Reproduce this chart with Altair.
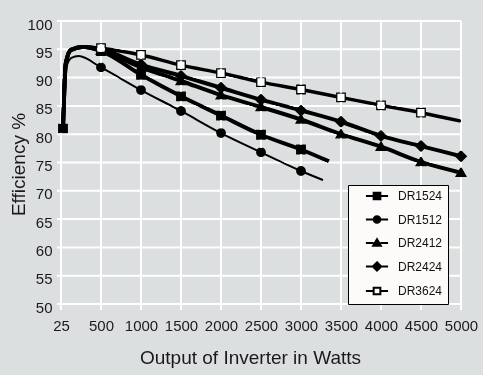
import altair as alt
import pandas as pd

series = ["DR1524", "DR1512", "DR2412", "DR2424", "DR3624"]

# watts / efficiency %; marked = 1 where a marker is drawn
x_dr1524 = [25, 60, 125, 275, 500, 1000, 1500, 2000, 2500, 3000, 3350]
y_dr1524 = [81.0, 92.5, 94.9, 95.4, 94.7, 90.5, 86.7, 83.3, 79.9, 77.3, 75.2]
m_dr1524 = [1, 0, 0, 0, 1, 1, 1, 1, 1, 1, 0]

x_dr1512 = [25, 60, 130, 220, 500, 1000, 1500, 2000, 2500, 3000, 3275]
y_dr1512 = [81.0, 91.5, 93.5, 93.8, 91.8, 87.8, 84.1, 80.2, 76.8, 73.5, 71.9]
m_dr1512 = [0, 0, 0, 0, 1, 1, 1, 1, 1, 1, 0]

x_dr2412 = [25, 60, 125, 275, 500, 1000, 1500, 2000, 2500, 3000, 3500, 4000, 4500, 5000]
y_dr2412 = [81.0, 92.5, 94.9, 95.4, 94.8, 91.8, 89.4, 86.9, 84.8, 82.6, 80.0, 77.8, 75.1, 73.2]
m_dr2412 = [0, 0, 0, 0, 1, 1, 1, 1, 1, 1, 1, 1, 1, 1]

x_dr2424 = [25, 60, 125, 275, 500, 1000, 1500, 2000, 2500, 3000, 3500, 4000, 4500, 5000]
y_dr2424 = [81.0, 92.5, 94.9, 95.4, 95.0, 92.3, 90.3, 88.2, 86.1, 84.2, 82.2, 79.7, 77.9, 76.1]
m_dr2424 = [0, 0, 0, 0, 1, 1, 1, 1, 1, 1, 1, 1, 1, 1]

x_dr3624 = [25, 60, 125, 275, 500, 1000, 1500, 2000, 2500, 3000, 3500, 4000, 4500, 5000]
y_dr3624 = [81.0, 92.5, 94.9, 95.4, 95.2, 94.0, 92.2, 90.8, 89.2, 87.9, 86.5, 85.1, 83.8, 82.3]
m_dr3624 = [0, 0, 0, 0, 1, 1, 1, 1, 1, 1, 1, 1, 1, 0]

x_ticks = [0, 500, 1000, 1500, 2000, 2500, 3000, 3500, 4000, 4500, 5000]
y_ticks = [50, 55, 60, 65, 70, 75, 80, 85, 90, 95, 100]

xs = [x_dr1524, x_dr1512, x_dr2412, x_dr2424, x_dr3624]
ys = [y_dr1524, y_dr1512, y_dr2412, y_dr2424, y_dr3624]
ms = [m_dr1524, m_dr1512, m_dr2412, m_dr2424, m_dr3624]

rows = []
for s, xl, yl, ml in zip(series, xs, ys, ms):
    for xv, yv, mv in zip(xl, yl, ml):
        rows.append({"series": s, "watts": xv, "eff": yv, "marked": mv})
df = pd.DataFrame(rows)
xgrid_df = pd.DataFrame({"gx": x_ticks})
ygrid_df = pd.DataFrame({"gy": y_ticks})

shape_paths = [
    "M-1,-1H1V1H-1Z",
    "M1,0A1,1,0,1,1,-1,0A1,1,0,1,1,1,0Z",
    "M0,-1.15L1.15,0.85H-1.15Z",
    "M0,-1.25L1.25,0L0,1.25L-1.25,0Z",
    "M-1,-1H1V1H-1Z",
]
stub = " M-3.3,0H-1 M1,0H3.3"
legend_paths = [p + stub for p in shape_paths]
fills = ["black", "black", "black", "black", "white"]

FONT = "Liberation Sans"
TXT = "#1a1a1a"
W, H = 400, 283

x_scale = alt.Scale(domain=[0, 5000], nice=False)
y_scale = alt.Scale(domain=[50, 100], nice=False)

x_enc = alt.X(
    "watts:Q",
    scale=x_scale,
    axis=alt.Axis(
        values=x_ticks,
        labelExpr="datum.value == 0 ? '25' : format(datum.value, 'd')",
        labelOverlap=False, labelFlush=False,
        grid=False, domain=False, ticks=False,
        labelFont=FONT, labelFontSize=15, labelColor=TXT, labelPadding=14,
        title="Output of Inverter in Watts",
        titleFont=FONT, titleFontSize=19, titleFontWeight="normal", titleColor=TXT,
        titleX=189, titleY=59, titleAlign="center", titleBaseline="alphabetic",
    ),
)
y_enc = alt.Y(
    "eff:Q",
    scale=y_scale,
    axis=alt.Axis(
        values=y_ticks,
        labelOverlap=False, labelFlush=False,
        grid=False, domain=False, ticks=False,
        labelFont=FONT, labelFontSize=15, labelColor=TXT, labelPadding=9, labelOffset=3,
        title="Efficiency %",
        titleFont=FONT, titleFontSize=19, titleFontWeight="normal", titleColor=TXT,
        titleX=-43, titleY=143, titleAngle=-90, titleAlign="center", titleBaseline="middle",
    ),
)

# white grid lines, drawn as two-point lines through the shared scales;
# each runs a few pixels past the plot edge (like Excel's tick marks).
# Drawn above the series with an "overlay" blend: the gray background turns
# white while black lines and markers stay black.
vgrid = alt.Chart(xgrid_df).transform_calculate(
    watts="datum.gx", lo="48.94", hi="100"
).transform_fold(["lo", "hi"], as_=["end", "eff"]).mark_line(
    color="#ffffff", strokeWidth=2, opacity=1, blend="overlay"
).encode(
    x=x_enc,
    y=y_enc,
    detail="gx:Q",
)
hgrid = alt.Chart(ygrid_df).transform_calculate(
    eff="datum.gy", lo="-50", hi="5000"
).transform_fold(["lo", "hi"], as_=["end", "watts"]).mark_line(
    color="#ffffff", strokeWidth=2, opacity=1, blend="overlay"
).encode(
    x=x_enc,
    y=y_enc,
    detail="gy:Q",
)

lines = alt.Chart(df).transform_calculate(
    lw="datum.series == 'DR1512' ? 2 : (datum.series == 'DR3624' ? 3.5 : 4)"
).mark_line(interpolate="monotone", color="black").encode(
    x=x_enc,
    y=y_enc,
    detail="series:N",
    order="watts:Q",
    strokeWidth=alt.StrokeWidth("lw:Q", scale=None, legend=None),
)

points = alt.Chart(df).transform_filter("datum.marked == 1").mark_point(
    filled=False, color="black", strokeWidth=1.3, size=72, opacity=1
).encode(
    x=x_enc,
    y=y_enc,
    shape=alt.Shape("series:N", scale=alt.Scale(domain=series, range=shape_paths), legend=None),
    fill=alt.Fill("series:N", scale=alt.Scale(domain=series, range=fills), legend=None),
)

legend = alt.Legend(
    title=None, orient="none", legendX=287, legendY=164,
    fillColor="#fdfafa", strokeColor="black", padding=5,
    symbolSize=45, symbolStrokeWidth=2, symbolStrokeColor="black", symbolOpacity=1,
    symbolOffset=18, labelOffset=15, rowPadding=7.5,
    labelFontSize=12, labelFont=FONT, labelColor="#111111",
    labelExpr="datum.label + '\u2003\u2003'",
)

legend_layer = alt.Chart(df).transform_filter("false").mark_point(
    filled=False, color="black", strokeWidth=2, opacity=1
).encode(
    x=x_enc,
    y=y_enc,
    shape=alt.Shape("series:N", scale=alt.Scale(domain=series, range=legend_paths), legend=legend),
    fill=alt.Fill("series:N", scale=alt.Scale(domain=series, range=fills), legend=legend),
    stroke=alt.Stroke("series:N", scale=alt.Scale(domain=series, range=["black"] * 5), legend=legend),
)

chart = alt.layer(lines, points, vgrid, hgrid, legend_layer).resolve_scale(
    shape="independent", fill="independent", stroke="independent"
).properties(
    width=W, height=H,
    background="#dcdfe0",
    autosize=alt.AutoSizeParams(type="none"),
    padding={"left": 61, "top": 21, "right": 22, "bottom": 71},
).configure_view(stroke=None)

chart.save("out.html", embed_options={"renderer": "svg", "actions": False})
